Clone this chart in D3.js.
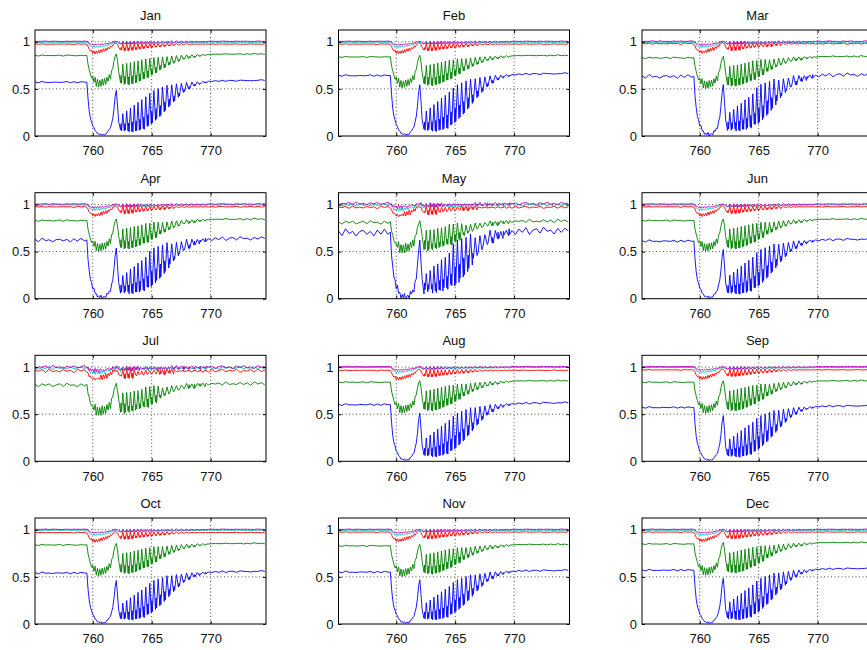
<!DOCTYPE html>
<html><head><meta charset="utf-8">
<script src="https://cdn.jsdelivr.net/npm/d3@7"></script>
<style>
html,body{margin:0;padding:0;background:#fff;}
svg{display:block;}
text{font-family:"Liberation Sans",Arial,Helvetica,sans-serif;fill:#111;font-weight:normal;}
</style></head>
<body>
<svg id="chart" width="867" height="650"></svg>
<script>
// ---------- DATA ----------
const months = ["Jan","Feb","Mar","Apr","May","Jun","Jul","Aug","Sep","Oct","Nov","Dec"];
const xTicks = [760, 765, 770];
const yTicks = [0, 0.5, 1];
const xDomain = [755.1, 774.7];
const yDomain = [0, 1.125];

// wavelength grid (nm)
const wavelength = [
 755.1,755.4,755.7,756.0,756.3,756.6,756.9,757.2,757.5,757.8,758.1,758.4,758.7,759.0,759.3,759.5,
 759.6,759.7,759.8,759.9,760.0,760.1,760.2,760.3,760.4,760.5,760.6,760.7,760.8,760.9,761.0,761.1,761.2,761.3,761.4,761.5,761.6,761.7,761.8,761.9,762.0,762.1,762.2,
 762.355,762.4,762.445,762.55, 762.675,762.72,762.765,762.88, 762.995,763.04,763.085,763.2, 763.315,763.36,763.405,763.52,
 763.635,763.68,763.725,763.84, 763.955,764.0,764.045,764.16, 764.285,764.33,764.375,764.5, 764.625,764.67,764.715,764.84,
 764.965,765.01,765.055,765.19, 765.325,765.37,765.415,765.55, 765.685,765.73,765.775,765.92, 766.065,766.11,766.155,766.3,
 766.455,766.5,766.545,766.7, 766.855,766.9,766.945,767.1, 767.265,767.31,767.355,767.52, 767.695,767.74,767.785,767.96,
 768.135,768.18,768.225,768.41, 768.595,768.64,768.685,768.87, 769.055,769.1,769.145,769.34, 769.535,769.58,769.625,769.82,
 770.1,770.4,770.7,771.0,771.3,771.6,771.9,772.2,772.5,772.8,773.1,773.4,773.7,774.0,774.3,774.6
];

// reference spectra
const blueRef = [
 0.572,0.568,0.575,0.570,0.566,0.574,0.571,0.565,0.573,0.578,0.569,0.574,0.567,0.572,0.575,0.570,
 0.40,0.26,0.19,0.15,0.11,0.085,0.06,0.045,0.03,0.02,0.015,0.02,0.012,0.018,0.01,0.02,0.035,0.05,0.07,0.09,0.13,0.19,0.28,0.42,0.48,0.33,0.15,
 0.07,0.13,0.05,0.24, 0.05,0.13,0.06,0.27, 0.05,0.14,0.045,0.30, 0.045,0.15,0.04,0.33,
 0.05,0.16,0.055,0.36, 0.06,0.18,0.065,0.39, 0.075,0.20,0.07,0.42, 0.10,0.23,0.11,0.45,
 0.13,0.26,0.14,0.48, 0.17,0.29,0.18,0.50, 0.21,0.32,0.22,0.52, 0.26,0.36,0.27,0.535,
 0.31,0.39,0.32,0.545, 0.36,0.43,0.37,0.555, 0.41,0.46,0.42,0.56, 0.46,0.50,0.47,0.565,
 0.50,0.525,0.505,0.57, 0.53,0.545,0.535,0.575, 0.55,0.56,0.555,0.578, 0.565,0.572,0.568,0.58,
 0.582,0.585,0.580,0.588,0.584,0.590,0.586,0.583,0.589,0.592,0.587,0.591,0.585,0.593,0.596,0.590
];
const greenRef = [
 0.855,0.852,0.858,0.854,0.851,0.857,0.853,0.856,0.850,0.855,0.858,0.852,0.856,0.853,0.857,0.854,
 0.76,0.70,0.66,0.61,0.64,0.57,0.62,0.53,0.60,0.52,0.59,0.53,0.60,0.54,0.61,0.55,0.62,0.58,0.65,0.61,0.69,0.72,0.79,0.85,0.87,0.80,0.68,
 0.57,0.64,0.56,0.76, 0.55,0.63,0.56,0.77, 0.545,0.63,0.54,0.78, 0.55,0.64,0.555,0.79,
 0.56,0.65,0.565,0.80, 0.58,0.66,0.585,0.81, 0.60,0.68,0.605,0.815, 0.62,0.69,0.625,0.82,
 0.65,0.71,0.655,0.83, 0.67,0.73,0.675,0.835, 0.70,0.75,0.705,0.84, 0.72,0.765,0.725,0.845,
 0.75,0.785,0.755,0.85, 0.77,0.80,0.775,0.855, 0.79,0.815,0.795,0.858, 0.81,0.83,0.815,0.86,
 0.825,0.84,0.828,0.862, 0.835,0.847,0.838,0.865, 0.845,0.854,0.848,0.866, 0.855,0.86,0.857,0.868,
 0.866,0.870,0.865,0.872,0.868,0.871,0.867,0.873,0.869,0.866,0.872,0.870,0.874,0.868,0.871,0.869
];
const redRef = [
 0.976,0.974,0.977,0.975,0.973,0.976,0.975,0.977,0.974,0.976,0.975,0.973,0.977,0.975,0.976,0.974,
 0.95,0.92,0.90,0.915,0.875,0.905,0.87,0.905,0.875,0.91,0.88,0.915,0.89,0.925,0.90,0.93,0.91,0.94,0.925,0.95,0.945,0.965,0.975,0.985,0.985,0.97,0.94,
 0.91,0.94,0.915,0.985, 0.905,0.935,0.91,0.985, 0.905,0.935,0.908,0.985, 0.91,0.94,0.912,0.985,
 0.915,0.94,0.918,0.985, 0.92,0.945,0.922,0.985, 0.925,0.95,0.928,0.985, 0.93,0.953,0.933,0.985,
 0.935,0.955,0.938,0.985, 0.94,0.958,0.943,0.985, 0.945,0.962,0.948,0.985, 0.95,0.965,0.952,0.985,
 0.955,0.968,0.957,0.985, 0.96,0.97,0.962,0.985, 0.963,0.972,0.965,0.984, 0.966,0.973,0.968,0.982,
 0.968,0.974,0.97,0.98, 0.97,0.975,0.972,0.979, 0.972,0.975,0.973,0.978, 0.974,0.976,0.975,0.977,
 0.976,0.974,0.977,0.975,0.976,0.974,0.977,0.975,0.976,0.974,0.975,0.977,0.976,0.974,0.975,0.976
];
const cyanRef = [
 0.996,0.994,0.995,0.997,0.994,0.995,0.996,0.993,0.995,0.997,0.994,0.996,0.995,0.994,0.996,0.995,
 0.985,0.965,0.955,0.95,0.942,0.955,0.94,0.952,0.943,0.955,0.945,0.957,0.949,0.96,0.953,0.964,0.957,0.969,0.965,0.976,0.978,0.986,0.99,0.995,0.996,0.99,0.982,
 0.976,0.984,0.978,0.997, 0.975,0.983,0.977,0.997, 0.975,0.983,0.977,0.997, 0.976,0.984,0.978,0.997,
 0.977,0.985,0.979,0.997, 0.978,0.986,0.98,0.997, 0.979,0.987,0.981,0.997, 0.98,0.988,0.982,0.997,
 0.981,0.989,0.983,0.997, 0.982,0.989,0.984,0.997, 0.983,0.99,0.985,0.997, 0.984,0.99,0.986,0.997,
 0.985,0.991,0.987,0.997, 0.986,0.991,0.988,0.997, 0.987,0.992,0.988,0.996, 0.988,0.992,0.989,0.996,
 0.989,0.993,0.99,0.996, 0.99,0.993,0.991,0.996, 0.991,0.994,0.992,0.996, 0.992,0.994,0.993,0.996,
 0.996,0.994,0.995,0.997,0.995,0.994,0.996,0.995,0.997,0.994,0.996,0.995,0.994,0.996,0.995,0.997
];
const magentaRef = [
 1.006,1.004,1.005,1.007,1.004,1.005,1.006,1.003,1.005,1.006,1.004,1.005,1.007,1.004,1.006,1.005,
 0.998,0.985,0.975,0.97,0.974,0.964,0.975,0.965,0.976,0.966,0.977,0.968,0.979,0.971,0.981,0.974,0.984,0.978,0.987,0.986,0.992,0.996,1.0,1.004,1.005,1.0,0.99,
 0.978,0.988,0.98,1.006, 0.977,0.987,0.979,1.006, 0.978,0.988,0.98,1.006, 0.979,0.989,0.981,1.006,
 0.98,0.99,0.982,1.006, 0.981,0.99,0.983,1.006, 0.982,0.991,0.984,1.006, 0.983,0.992,0.985,1.006,
 0.984,0.992,0.986,1.006, 0.985,0.993,0.987,1.006, 0.987,0.994,0.989,1.006, 0.988,0.995,0.99,1.006,
 0.99,0.996,0.992,1.006, 0.991,0.996,0.993,1.006, 0.992,0.997,0.994,1.005, 0.993,0.998,0.995,1.005,
 0.995,0.999,0.996,1.005, 0.996,0.999,0.997,1.005, 0.997,1.0,0.998,1.005, 0.998,1.001,0.999,1.005,
 1.005,1.006,1.004,1.005,1.007,1.004,1.005,1.006,1.004,1.005,1.006,1.004,1.005,1.007,1.005,1.004
];

// continuum level of each series per month (left side of band)
const blueLevel    = [0.57,0.64,0.63,0.62,0.70,0.61,null,0.60,0.57,0.54,0.55,0.57];
const greenLevel   = [0.855,0.84,0.83,0.83,0.81,0.83,0.81,0.84,0.84,0.84,0.83,0.85];
const redLevel     = [0.975,0.975,0.98,0.975,0.97,0.975,0.96,0.965,0.97,0.97,0.975,0.975];
const cyanLevel    = [0.995,0.995,0.995,0.995,0.995,0.995,0.99,0.995,0.995,0.995,0.995,0.995];
const magentaLevel = [1.005,1.005,1.005,1.005,1.01,1.005,1.0,1.005,1.005,1.005,1.005,1.005];

// scatter (measurement noise) of each series per month
const blueNoise    = [0.004,0.006,0.02,0.02,0.04,0.01,0,0.008,0.006,0.008,0.008,0.006];
const greenNoise   = [0.004,0.004,0.008,0.008,0.02,0.006,0.02,0.005,0.005,0.005,0.005,0.005];
const redNoise     = [0.002,0.003,0.008,0.006,0.015,0.004,0.02,0.003,0.003,0.003,0.003,0.003];
const cyanNoise    = [0.002,0.002,0.006,0.005,0.015,0.003,0.018,0.003,0.002,0.002,0.002,0.002];
const magentaNoise = [0.002,0.002,0.006,0.005,0.015,0.003,0.018,0.003,0.002,0.002,0.002,0.002];

// hand-typed scatter pattern
const scatter = [
 0.4,-0.7,0.9,-0.2,0.5,-1.0,0.3,0.8,-0.5,0.1,-0.8,0.6,-0.3,0.9,-0.6,0.2,-0.9,0.7,-0.1,0.4,
 -0.7,1.0,-0.4,0.3,-0.8,0.5,-0.2,0.8,-0.9,0.1,0.6,-0.5,0.9,-0.3,0.2,-1.0,0.7,-0.6,0.4,-0.1,
 0.8,-0.4,0.5,-0.9,0.2,0.9,-0.7,0.3,-0.2,0.6,-0.8,1.0,-0.5,0.1,-0.6,0.7,-0.3,0.4,-0.9,0.8,
 -0.1,0.5,-0.7,0.2,-0.4,0.9,-1.0,0.6,-0.2,0.3,-0.8,0.7,-0.5,0.1,0.8,-0.6,0.4,-0.3,0.9,-0.9,
 0.2,-0.1,0.6,-0.7,1.0,-0.4,0.3,-0.8,0.5,-0.2,0.7,-0.6,0.1,0.9,-0.5,0.4,-1.0,0.8,-0.3
];

// ---------- SERIES SETUP ----------
const seriesDefs = [
  {ref:blueRef,    level:blueLevel,    noise:blueNoise,    color:"#0000ff", shift:0},
  {ref:greenRef,   level:greenLevel,   noise:greenNoise,   color:"#008000", shift:23},
  {ref:redRef,     level:redLevel,     noise:redNoise,     color:"#ff0000", shift:47},
  {ref:cyanRef,    level:cyanLevel,    noise:cyanNoise,    color:"#00bfbf", shift:61},
  {ref:magentaRef, level:magentaLevel, noise:magentaNoise, color:"#bf00bf", shift:79}
];

// ---------- LAYOUT ----------
const colLeft = [35, 338.5, 642];
const rowTop = [30, 192.7, 355.3, 518];
const pw = 231, ph = 106;

const svg = d3.select("#chart");
const x = d3.scaleLinear().domain(xDomain).range([0, pw]);
const y = d3.scaleLinear().domain(yDomain).range([ph, 0]);
const ns = scatter.length;

months.forEach((m, mi) => {
  const r = Math.floor(mi / 3), c = mi % 3;
  const g = svg.append("g").attr("transform", `translate(${colLeft[c]},${rowTop[r]})`);
  const clipId = "clip" + mi;
  g.append("clipPath").attr("id", clipId).append("rect").attr("width", pw).attr("height", ph);

  g.append("rect").attr("width", pw).attr("height", ph).attr("fill", "#fff");

  // grid
  const grid = g.append("g").attr("stroke", "#222").attr("stroke-width", 0.8).attr("stroke-dasharray", "1,2.5");
  xTicks.forEach(t => grid.append("line").attr("x1", x(t)).attr("x2", x(t)).attr("y1", 0).attr("y2", ph));
  yTicks.filter(t => t > 0).forEach(t => grid.append("line").attr("x1", 0).attr("x2", pw).attr("y1", y(t)).attr("y2", y(t)));

  // data lines
  const lines = g.append("g").attr("clip-path", `url(#${clipId})`);
  seriesDefs.forEach(s => {
    const lvl = s.level[mi];
    if (lvl == null) return;
    const base = s.level[0];
    const amp = s.noise[mi];
    const pts = wavelength.map((w, i) => [w, s.ref[i] * lvl / base + amp * scatter[(i + s.shift) % ns]]);
    lines.append("path")
      .datum(pts)
      .attr("fill", "none")
      .attr("stroke", s.color)
      .attr("stroke-width", 0.9)
      .attr("stroke-linejoin", "round")
      .attr("d", d3.line().x(d => x(d[0])).y(d => y(d[1])));
  });

  // axes (inward ticks, box)
  const ax = g.append("g");
  const xb = d3.axisBottom(x).tickValues(xTicks).tickSize(-3).tickPadding(10).tickFormat(d3.format("d"));
  const xt = d3.axisTop(x).tickValues(xTicks).tickSize(-3).tickFormat("");
  const yl = d3.axisLeft(y).tickValues(yTicks).tickSize(-3).tickPadding(5).tickFormat(d => d === 0.5 ? "0.5" : d3.format("d")(d));
  const yr = d3.axisRight(y).tickValues(yTicks).tickSize(-3).tickFormat("");
  ax.append("g").attr("transform", `translate(0,${ph})`).call(xb);
  ax.append("g").call(xt);
  ax.append("g").call(yl);
  ax.append("g").attr("transform", `translate(${pw},0)`).call(yr);
  ax.selectAll(".domain").remove();
  ax.selectAll("text").attr("font-size", 13).attr("fill", "#1a1a1a");
  ax.selectAll(".tick line").attr("stroke", "#000");
  g.append("rect").attr("width", pw).attr("height", ph).attr("fill", "none").attr("stroke", "#000").attr("stroke-width", 1);

  g.append("text").attr("x", pw / 2).attr("y", -10).attr("text-anchor", "middle")
    .attr("font-size", 13).attr("fill", "#222").text(m);
});
</script>
</body></html>
